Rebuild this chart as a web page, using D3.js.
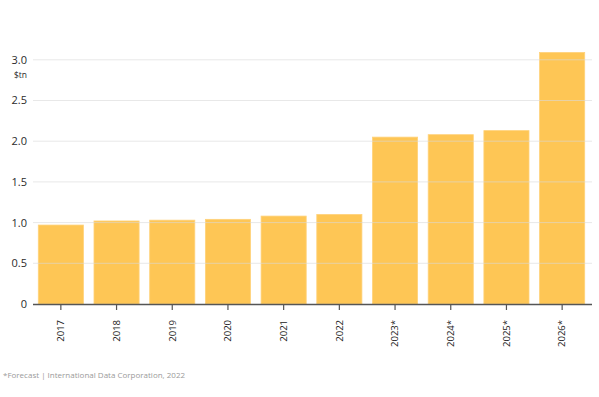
<!DOCTYPE html>
<html><head><meta charset="utf-8">
<script src="https://cdn.jsdelivr.net/npm/d3@7"></script>
<style>html,body{margin:0;padding:0;background:#fff;}svg{display:block;}</style>
</head><body>
<svg id="c" width="599" height="397"></svg>
<script>
const categories = ["2017","2018","2019","2020","2021","2022","2023*","2024*","2025*","2026*"];
const values = [0.97, 1.02, 1.03, 1.04, 1.08, 1.10, 2.05, 2.08, 2.13, 3.09];
const yTicks = [0, 0.5, 1.0, 1.5, 2.0, 2.5, 3.0];
const unitLabel = "$tn";
const footnote = "*Forecast | International Data Corporation, 2022";

const svg = d3.select("#c");
const font = "'Open Sans', 'Noto Sans', sans-serif";
const x = d3.scaleBand().domain(categories).range([33, 590]).paddingInner(0.19).paddingOuter(0.095);
const y = d3.scaleLinear().domain([0, 3]).range([304, 59.8]);

svg.append("g").selectAll("rect").data(values).join("rect")
  .attr("x", (d,i) => x(categories[i]))
  .attr("y", d => y(d))
  .attr("width", x.bandwidth())
  .attr("height", d => y(0) - y(d))
  .attr("fill", "#FEC655")
  .attr("stroke", "#FFD27A").attr("stroke-width", 0.8);

// gridlines (drawn over bars)
svg.append("g").selectAll("line").data(yTicks.filter(t => t > 0)).join("line")
  .attr("x1", 33).attr("x2", 592)
  .attr("y1", d => y(d)).attr("y2", d => y(d))
  .attr("stroke", "#d8d8d8").attr("stroke-opacity", 0.6).attr("stroke-width", 1);

// y labels
svg.append("g").selectAll("text").data(yTicks).join("text")
  .attr("x", 27).attr("y", d => y(d)).attr("dy", "0.36em")
  .attr("text-anchor", "end").attr("font-family", font).attr("font-size", 11)
  .attr("font-weight", 500)
  .attr("fill", "#2b2b2b")
  .text(d => d === 0 ? "0" : d3.format(".1f")(d));
svg.append("text").attr("x", 27).attr("y", y(3) + 18).attr("text-anchor", "end")
  .attr("font-family", font).attr("font-size", 8.5).attr("fill", "#2b2b2b").text(unitLabel);

// x axis
const xAxis = d3.axisBottom(x).tickSize(6).tickSizeOuter(0);
const gx = svg.append("g").attr("transform", `translate(0,${y(0)})`).call(xAxis);
gx.select(".domain").attr("stroke", "#555").attr("stroke-width", 1.5).attr("d", "M33,0.5H592");
gx.selectAll(".tick line").attr("stroke", "#555").attr("stroke-width", 1.2);
gx.selectAll(".tick text")
  .attr("font-family", font).attr("font-size", 9.5).attr("fill", "#222")
  .attr("transform", "rotate(-90)")
  .attr("text-anchor", "end").attr("x", -16).attr("y", 0).attr("dy", "0.35em");

svg.append("text").attr("x", 3).attr("y", 378)
  .attr("font-family", font).attr("font-size", 8).attr("fill", "#9a9a9a").text(footnote);
</script>
</body></html>
